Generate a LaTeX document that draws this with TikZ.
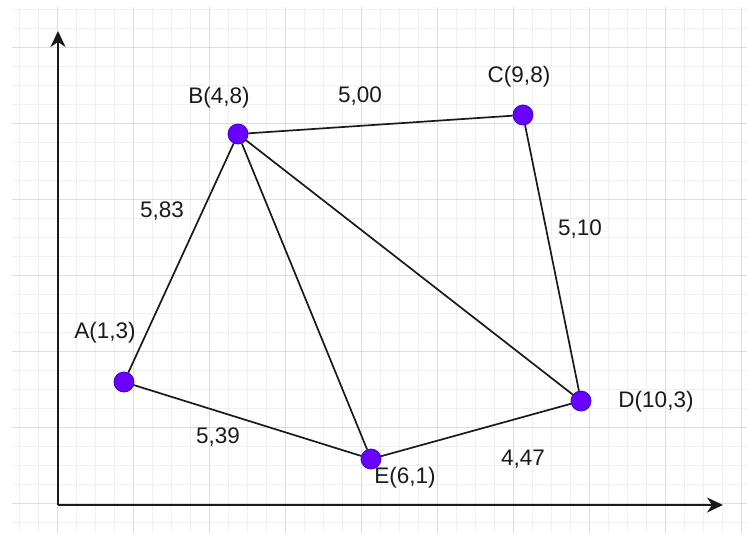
\documentclass[tikz,border=0pt]{standalone}
\usepackage{fontspec}
\setmainfont{Liberation Sans}
\usetikzlibrary{arrows.meta}
\definecolor{dotfill}{HTML}{6A00FF}
\definecolor{dotline}{HTML}{3700CC}
\definecolor{gridmajor}{HTML}{DDDDDD}
\definecolor{gridminor}{HTML}{F0F0F0}
\definecolor{txt}{HTML}{1A1A1A}
\tikzset{
  pt/.style={circle,fill=dotfill,draw=dotline,line width=0.8pt,minimum size=20pt,inner sep=0pt},
  lbl/.style={font=\fontsize{22.5}{26}\selectfont,text=txt,inner sep=0pt},
  edge/.style={line width=1.7pt,draw=txt},
  axis/.style={line width=2pt,draw=txt,-{Stealth[length=16pt,width=15pt,inset=5pt]}}
}
\begin{document}
\begin{tikzpicture}[x=1pt,y=-1pt]
\useasboundingbox (0,0) rectangle (747,533);
\fill[white] (0,0) rectangle (747,533);
% grid
\foreach \x in {19,38,...,747} \draw[gridminor,line width=1pt] (\x,7) -- (\x,533);
\foreach \y in {9,28,...,533} \draw[gridminor,line width=1pt] (12,\y) -- (747,\y);
\foreach \x in {57,133,...,747} \draw[gridmajor,line width=1pt] (\x,7) -- (\x,533);
\foreach \y in {47,123,...,533} \draw[gridmajor,line width=1pt] (12,\y) -- (747,\y);
% axes
\coordinate (O) at (58,505);
\coordinate (Ytip) at (58,31);
\coordinate (Xtip) at (723,505);
\draw[axis] (O) -- (Ytip);
\draw[axis] (O) -- (Xtip);
% points
\node[pt] (A) at (124,382) {};
\node[pt] (B) at (238,134) {};
\node[pt] (C) at (523,115) {};
\node[pt] (D) at (581,401) {};
\node[pt] (E) at (371,459) {};
% edges
\draw[edge] (A) -- (B);
\draw[edge] (B) -- (C);
\draw[edge] (C) -- (D);
\draw[edge] (D) -- (E);
\draw[edge] (E) -- (A);
\draw[edge] (B) -- (E);
\draw[edge] (B) -- (D);
% point labels
\node[lbl] (lA) at (105,333) {A(1,3)};
\node[lbl] (lB) at (219,98) {B(4,8)};
\node[lbl] (lC) at (519,77) {C(9,8)};
\node[lbl] (lD) at (656,402) {D(10,3)};
\node[lbl] (lE) at (405,478) {E(6,1)};
% distance labels
\node[lbl] (dBC) at (360,96) {5,00};
\node[lbl] (dAB) at (162,211) {5,83};
\node[lbl] (dCD) at (580,229) {5,10};
\node[lbl] (dAE) at (218,437) {5,39};
\node[lbl] (dDE) at (523,459) {4,47};
\end{tikzpicture}
\end{document}
